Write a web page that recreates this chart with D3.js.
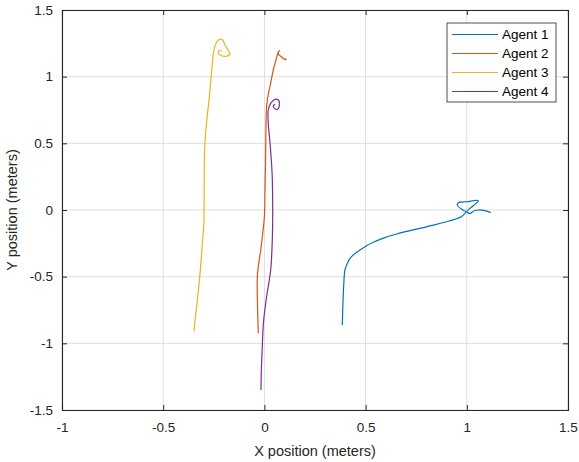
<!DOCTYPE html>
<html>
<head>
<meta charset="utf-8">
<script src="https://cdn.jsdelivr.net/npm/d3@7"></script>
<style>
  html, body { margin: 0; padding: 0; background: #fff; }
  svg { display: block; font-family: "Liberation Sans", Arial, Helvetica, sans-serif; }
</style>
</head>
<body>
<svg id="chart" width="579" height="462"></svg>
<script>
// Agent trajectories, [x, y] in meters
const agent1 = [
  [0.385, -0.862], [0.388, -0.70], [0.392, -0.56], [0.398, -0.45], [0.41, -0.40],
  [0.423, -0.362], [0.445, -0.33], [0.472, -0.30], [0.505, -0.268], [0.538, -0.242],
  [0.595, -0.207], [0.654, -0.180], [0.72, -0.155], [0.785, -0.132], [0.845, -0.11],
  [0.90, -0.088], [0.94, -0.07], [0.975, -0.048], [0.991, -0.025], [0.996, -0.013],
  [0.975, 0.005], [0.953, 0.0375], [0.958, 0.055], [1.00, 0.062], [1.057, 0.07],
  [1.03, 0.03], [0.9995, -0.013], [1.016, -0.025], [1.035, -0.008], [1.057, 0.0],
  [1.09, -0.005], [1.118, -0.02]
];
const agent2 = [
  [-0.03, -0.925], [-0.034, -0.72], [-0.035, -0.50], [-0.028, -0.40], [-0.018, -0.30],
  [-0.008, -0.17], [0.0, -0.05], [0.003, 0.15], [0.006, 0.40], [0.008, 0.65],
  [0.011, 0.78], [0.018, 0.86], [0.028, 0.93], [0.044, 1.05], [0.058, 1.13],
  [0.066, 1.175], [0.074, 1.195], [0.068, 1.17], [0.077, 1.158], [0.085, 1.148],
  [0.092, 1.138], [0.10, 1.132], [0.108, 1.13], [0.10, 1.125]
];
const agent3 = [
  [-0.348, -0.91], [-0.342, -0.82], [-0.335, -0.725], [-0.326, -0.60], [-0.318, -0.475],
  [-0.305, -0.225], [-0.299, -0.10], [-0.298, 0.0], [-0.297, 0.325], [-0.294, 0.50],
  [-0.288, 0.62], [-0.272, 0.85], [-0.26, 1.05], [-0.252, 1.175], [-0.239, 1.25],
  [-0.223, 1.28], [-0.206, 1.275], [-0.195, 1.237], [-0.178, 1.195], [-0.17, 1.17],
  [-0.183, 1.155], [-0.211, 1.157], [-0.228, 1.175], [-0.223, 1.195], [-0.211, 1.192]
];
const agent4 = [
  [-0.017, -1.35], [-0.015, -1.20], [-0.011, -1.05], [-0.005, -0.85], [0.011, -0.65],
  [0.031, -0.45], [0.039, -0.225], [0.041, 0.025], [0.038, 0.275], [0.028, 0.50],
  [0.019, 0.65], [0.019, 0.75], [0.031, 0.80], [0.052, 0.83], [0.069, 0.825],
  [0.074, 0.787], [0.064, 0.755], [0.049, 0.762], [0.044, 0.78], [0.052, 0.795]
];

const seriesNames = ["Agent 1", "Agent 2", "Agent 3", "Agent 4"];
const seriesColors = ["#0072BD", "#D95319", "#EDB120", "#7E2F8E"];
const seriesData = [agent1, agent2, agent3, agent4];

const xTicks = [-1, -0.5, 0, 0.5, 1, 1.5];
const yTicks = [-1.5, -1, -0.5, 0, 0.5, 1, 1.5];
const xLabel = "X position (meters)";
const yLabel = "Y position (meters)";

// Layout
const margin = { left: 62, top: 10, right: 11, bottom: 52 };
const W = 579, H = 462;
const iw = W - margin.left - margin.right;
const ih = H - margin.top - margin.bottom;
const axisColor = "#262626";

const svg = d3.select("#chart");
const g = svg.append("g").attr("transform", `translate(${margin.left},${margin.top})`);

const x = d3.scaleLinear().domain([-1, 1.5]).range([0, iw]);
const y = d3.scaleLinear().domain([-1.5, 1.5]).range([ih, 0]);

// Grid
g.append("g").selectAll("line").data(xTicks).join("line")
  .attr("x1", d => x(d)).attr("x2", d => x(d)).attr("y1", 0).attr("y2", ih)
  .attr("stroke", "#dfdfdf").attr("stroke-width", 1);
g.append("g").selectAll("line").data(yTicks).join("line")
  .attr("y1", d => y(d)).attr("y2", d => y(d)).attr("x1", 0).attr("x2", iw)
  .attr("stroke", "#dfdfdf").attr("stroke-width", 1);

// Trajectories
const line = d3.line().x(d => x(d[0])).y(d => y(d[1])).curve(d3.curveCatmullRom.alpha(0.5));
g.append("g").selectAll("path").data(seriesData).join("path")
  .attr("d", d => line(d))
  .attr("fill", "none")
  .attr("stroke", (d, i) => seriesColors[i])
  .attr("stroke-width", 1.2)
  .attr("stroke-linejoin", "round");

// Axes (ticks pointing inward, box on all sides)
const tl = 5;
const axB = g.append("g").attr("transform", `translate(0,${ih})`)
  .call(d3.axisBottom(x).tickValues(xTicks).tickSize(-tl).tickPadding(12).tickFormat(d => String(d)));
const axT = g.append("g")
  .call(d3.axisTop(x).tickValues(xTicks).tickSize(-tl).tickFormat(""));
const axL = g.append("g")
  .call(d3.axisLeft(y).tickValues(yTicks).tickSize(-tl).tickPadding(9).tickFormat(d => String(d)));
const axR = g.append("g").attr("transform", `translate(${iw},0)`)
  .call(d3.axisRight(y).tickValues(yTicks).tickSize(-tl).tickFormat(""));
[axB, axT, axL, axR].forEach(a => {
  a.select(".domain").attr("stroke", axisColor).attr("stroke-width", 1.1);
  a.selectAll(".tick line").attr("stroke", axisColor);
  a.selectAll("text").attr("fill", axisColor).style("font-size", "13.5px")
    .style("font-family", "'Liberation Sans', Arial, sans-serif");
});

// Axis titles
g.append("text")
  .attr("x", iw / 2).attr("y", ih + 46)
  .attr("text-anchor", "middle").attr("fill", axisColor)
  .style("font-size", "14.5px").text(xLabel);
g.append("text")
  .attr("transform", `translate(${-45},${ih / 2}) rotate(-90)`)
  .attr("text-anchor", "middle").attr("fill", axisColor)
  .style("font-size", "14.5px").text(yLabel);

// Legend
const lg = svg.append("g").attr("transform", "translate(447,23)");
lg.append("rect").attr("width", 109).attr("height", 79)
  .attr("fill", "#fff").attr("stroke", axisColor).attr("stroke-width", 0.8);
const items = lg.selectAll("g.item").data(seriesNames).join("g")
  .attr("class", "item")
  .attr("transform", (d, i) => `translate(0,${11.5 + i * 19})`);
items.append("line").attr("x1", 5).attr("x2", 51).attr("y1", 0).attr("y2", 0)
  .attr("stroke", (d, i) => seriesColors[i]).attr("stroke-width", 1.2);
items.append("text").attr("x", 55).attr("y", 0).attr("dy", "0.35em")
  .attr("fill", "#000").style("font-size", "13.5px").text(d => d);
</script>
</body>
</html>
